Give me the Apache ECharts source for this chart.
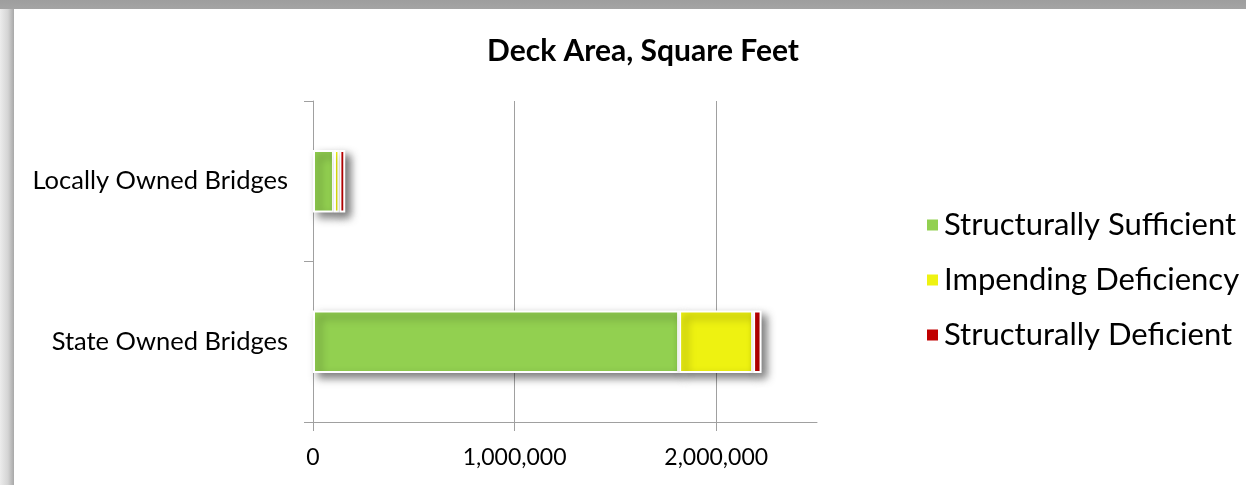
<!DOCTYPE html>
<html>
<head>
<meta charset="utf-8">
<script src="https://cdn.jsdelivr.net/npm/echarts@6/dist/echarts.min.js"></script>
<style>
html,body{margin:0;padding:0;width:1246px;height:485px;overflow:hidden;}
body{background:linear-gradient(to right,#ececec 0px,#d4d4d4 8px,#a8a8a8 14px);position:relative;}
#topband{position:absolute;left:0;top:0;width:1246px;height:9px;background:linear-gradient(to bottom,#9e9e9e,#a4a4a4);}
#chart{position:absolute;left:14px;top:9px;width:1232px;height:476px;background:#fff;}
</style>
</head>
<body>
<div id="topband"></div>
<div id="chart"></div>
<script>
const categories = ['Locally Owned Bridges', 'State Owned Bridges'];
const seriesNames = ['Structurally Sufficient', 'Impending Deficiency', 'Structurally Deficient'];
const sufficient = [104000, 1816000];
const impending = [27000, 367000];
const deficient = [29000, 42000];
const tickValues = [0, 1000000, 2000000];
const colors = ['#92d050', '#eef211', '#c00000'];
const FONT = 'Lato';

const chart = echarts.init(document.getElementById('chart'));
const values = [sufficient, impending, deficient];
const series = seriesNames.map((name, i) => ({
  name: name,
  type: 'bar',
  stack: 'total',
  barCategoryGap: '61%',
  data: values[i],
  itemStyle: {
    color: colors[i],
    borderColor: '#ffffff',
    borderWidth: 2,
    shadowColor: 'rgba(0,0,0,0.5)',
    shadowBlur: 8,
    shadowOffsetX: 5,
    shadowOffsetY: 5
  },
  emphasis: {disabled: true}
}));

chart.setOption({
  animation: false,
  backgroundColor: '#ffffff',
  title: {
    text: 'Deck Area, Square Feet',
    left: 624,
    top: 22,
    textAlign: 'center',
    textStyle: {fontFamily: FONT, fontWeight: 'bold', fontSize: 30, color: '#000'}
  },
  legend: {
    orient: 'vertical',
    left: 906,
    top: 194,
    itemWidth: 13,
    itemHeight: 13,
    itemGap: 21,
    icon: 'rect',
    data: seriesNames,
    textStyle: {fontFamily: FONT, fontSize: 31, color: '#000', lineHeight: 34, padding: [0, 0, 0, 0]}
  },
  grid: {left: 299, right: 429, top: 92, bottom: 63, containLabel: false},
  xAxis: {
    type: 'value',
    min: 0,
    max: 2500000,
    interval: 1000000,
    axisLine: {show: true, lineStyle: {color: '#a0a0a0', width: 1}},
    axisTick: {show: true, length: 9, customValues: tickValues, lineStyle: {color: '#a0a0a0'}},
    axisLabel: {
      customValues: tickValues,
      margin: 24,
      fontFamily: FONT, fontSize: 23, color: '#000',
      formatter: v => v.toLocaleString('en-US')
    },
    splitLine: {show: true, lineStyle: {color: ['#a0a0a0', '#a0a0a0', '#a0a0a0', 'rgba(0,0,0,0)'], width: 1}}
  },
  yAxis: {
    type: 'category',
    inverse: true,
    data: categories,
    axisLine: {show: true, lineStyle: {color: '#a0a0a0', width: 1}},
    axisTick: {show: true, length: 9, lineStyle: {color: '#a0a0a0'}},
    axisLabel: {margin: 25, fontFamily: FONT, fontSize: 25.5, color: '#000'}
  },
  series: series
});
</script>
</body>
</html>
